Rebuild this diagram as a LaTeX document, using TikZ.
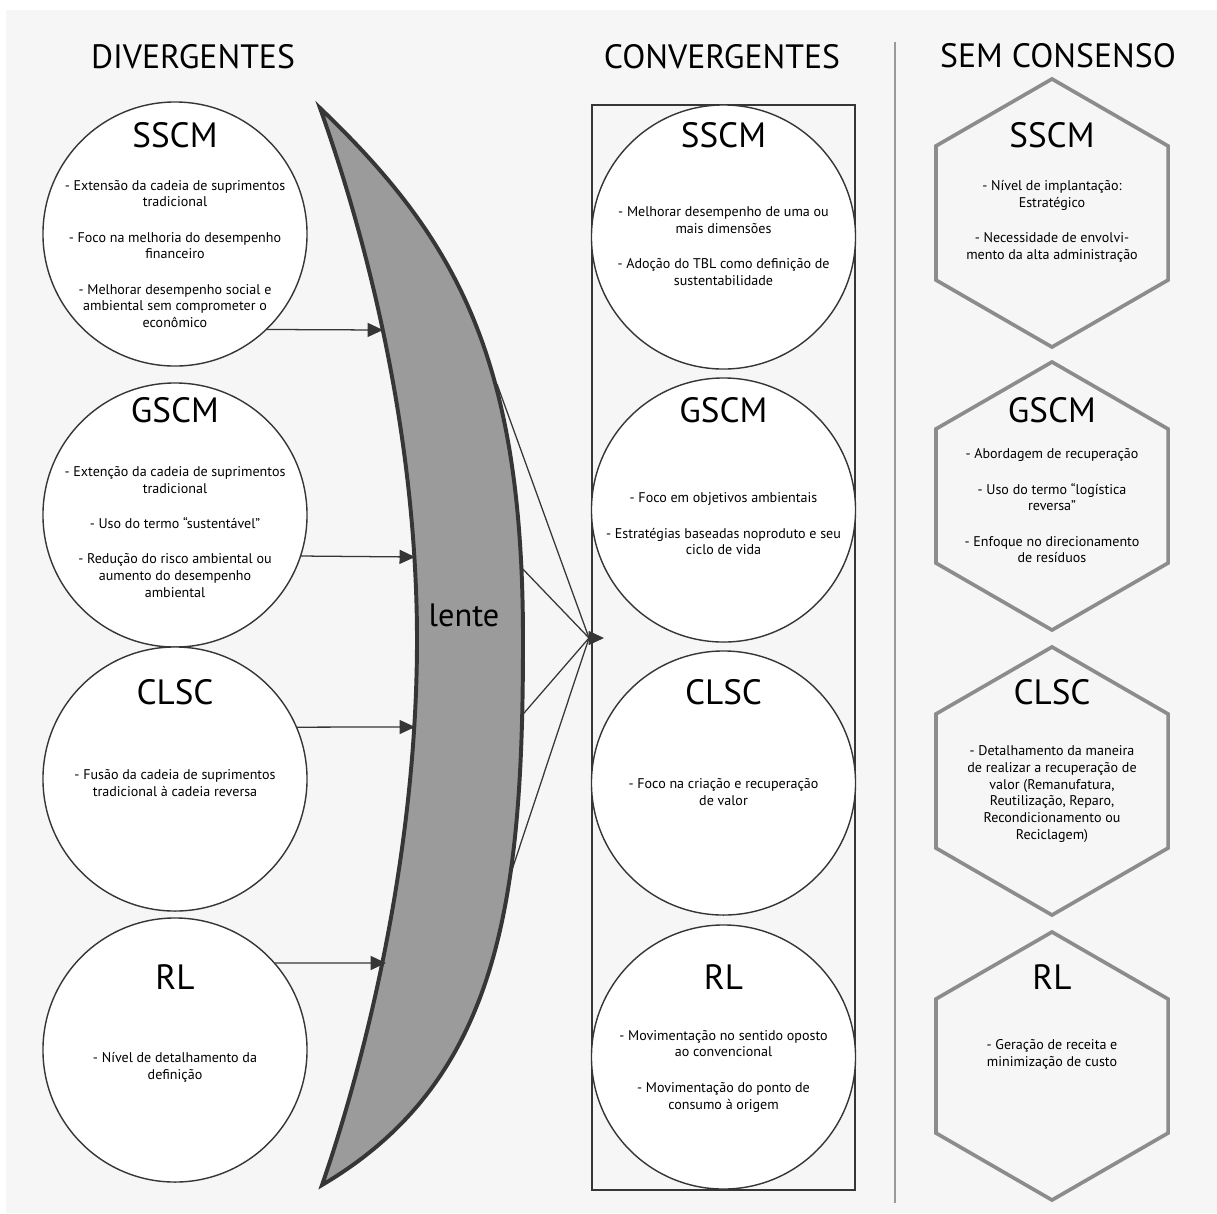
\documentclass[tikz,border=0pt]{standalone}
\usepackage{fontspec}
\setmainfont{PT Sans}
\usepackage{xcolor}
\usepackage{tikz}
\usetikzlibrary{shapes.geometric, arrows.meta, positioning}
\definecolor{fundo}{HTML}{F6F6F6}
\definecolor{borda}{HTML}{363636}
\definecolor{cinzalente}{HTML}{9B9B9B}
\definecolor{cinzahex}{HTML}{8C8C8C}
\definecolor{cinzasep}{HTML}{9A9A9A}
\tikzset{
    circulo/.style={circle, draw=borda, fill=white, line width=1pt, minimum size=6.6cm, inner sep=0pt},
    hexagono/.style={regular polygon, regular polygon sides=6, shape border rotate=30, draw=cinzahex, line width=2.6pt, minimum size=6.7cm, inner sep=0pt},
    sigla/.style={font=\fontsize{25}{30}\selectfont, text=black, inner sep=0pt},
    texto/.style={align=center, font=\fontsize{10}{12}\selectfont, text=black, inner sep=0pt},
    secao/.style={font=\fontsize{24}{28}\selectfont, text=black, inner sep=0pt},
    seta/.style={-{Triangle[length=11pt, width=10pt]}, draw=borda, line width=0.9pt}
}

\begin{document}
\begin{tikzpicture}[x=0.025cm, y=-0.025cm]
    % Fundo
    \useasboundingbox (0,0) rectangle (1217,1213);
    \fill[white] (0,0) rectangle (1217,1213);
    \fill[fundo] (6,10) rectangle (1217,1213);

    % Titulos das colunas
    \node[secao] (tDiv) at (193,57) {DIVERGENTES};
    \node[secao] (tConv) at (722,57) {CONVERGENTES};
    \node[secao] (tSem) at (1058,56) {SEM CONSENSO};
    \draw[cinzasep, line width=1.1pt] (895,42) -- (895,1203);

    % Linhas da lente ao ponto de convergencia
    \coordinate (conv) at (589,638);
    \coordinate (convPonta) at (604,638);
    \coordinate (lenR1) at (497,384);
    \coordinate (lenR2) at (518,564);
    \coordinate (lenR3) at (518,720);
    \coordinate (lenR4) at (492,930);
    \draw[borda, line width=0.9pt] (lenR1) -- (conv);
    \draw[borda, line width=0.9pt] (lenR2) -- (conv);
    \draw[borda, line width=0.9pt] (lenR3) -- (conv);
    \draw[borda, line width=0.9pt] (lenR4) -- (conv);

    % Lente
    \filldraw[fill=cinzalente, draw=borda, line width=2.8pt]
        (320,108) .. controls (458,240) and (523,360) .. (523,640)
        .. controls (523,900) and (500,1080) .. (322,1185)
        .. controls (362,1070) and (417,860) .. (417,640)
        .. controls (417,420) and (360,220) .. (320,108) -- cycle;
    \node[font=\fontsize{23}{28}\selectfont, inner sep=0pt] (lente) at (464,615) {lente};

    % Divergentes
    \node[circulo] (divSSCM) at (175,234) {};
    \node[circulo] (divGSCM) at (175,515) {};
    \node[circulo] (divCLSC) at (175,779) {};
    \node[circulo] (divRL) at (175,1050) {};
    \node[sigla] (divSSCMt) at (175,135) {SSCM};
    \node[sigla] (divGSCMt) at (175,410) {GSCM};
    \node[sigla] (divCLSCt) at (175,692) {CLSC};
    \node[sigla] (divRLt) at (175,977) {RL};
    \node[texto] (divSSCMb) at (175,254) {- Extensão da cadeia de suprimentos\\ tradicional\\[13pt] - Foco na melhoria do desempenho\\ financeiro\\[13pt] - Melhorar desempenho social e\\ ambiental sem comprometer o\\ econômico};
    \node[texto] (divGSCMb) at (175,532) {- Extenção da cadeia de suprimentos\\ tradicional\\[13pt] - Uso do termo “sustentável”\\[13pt] - Redução do risco ambiental ou\\ aumento do desempenho\\ ambiental};
    \node[texto] (divCLSCb) at (175,783) {- Fusão da cadeia de suprimentos\\ tradicional à cadeia reversa};
    \node[texto] (divRLb) at (175,1067) {- Nível de detalhamento da\\ definição};

    % Setas ate a lente
    \coordinate (lenA) at (383,330);
    \coordinate (lenB) at (415,557);
    \coordinate (lenC) at (415,727);
    \coordinate (lenD) at (386,963);
    \draw[seta] (divSSCM.-46.6) -- (lenA);
    \draw[seta] (divGSCM.-18.6) -- (lenB);
    \draw[seta] (divCLSC.23.2) -- (lenC);
    \draw[seta] (divRL.41.2) -- (lenD);

    % Convergentes
    \draw[borda, line width=1pt] (592,105) rectangle (855,1190);
    \node[circulo] (convSSCM) at (723.5,237) {};
    \node[circulo] (convGSCM) at (723.5,510) {};
    \node[circulo] (convCLSC) at (723.5,783) {};
    \node[circulo] (convRL) at (723.5,1057) {};
    \node[sigla] (convSSCMt) at (723.5,135) {SSCM};
    \node[sigla] (convGSCMt) at (723.5,410) {GSCM};
    \node[sigla] (convCLSCt) at (723.5,692) {CLSC};
    \node[sigla] (convRLt) at (723.5,977) {RL};
    \node[texto] (convSSCMb) at (723.5,246) {- Melhorar desempenho de uma ou\\ mais dimensões\\[13pt] - Adoção do TBL como definição de\\ sustentabilidade};
    \node[texto] (convGSCMb) at (723.5,524) {- Foco em objetivos ambientais\\[13pt] - Estratégias baseadas noproduto e seu\\ ciclo de vida};
    \node[texto] (convCLSCb) at (723.5,792) {- Foco na criação e recuperação\\ de valor};
    \node[texto] (convRLb) at (723.5,1071) {- Movimentação no sentido oposto\\ ao convencional\\[13pt] - Movimentação do ponto de\\ consumo à origem};
    \draw[seta] (conv) -- (convPonta);

    % Sem consenso
    \node[hexagono] (semSSCM) at (1052,213) {};
    \node[hexagono] (semGSCM) at (1052,496) {};
    \node[hexagono] (semCLSC) at (1052,781) {};
    \node[hexagono] (semRL) at (1052,1066) {};
    \node[sigla] (semSSCMt) at (1052,135) {SSCM};
    \node[sigla] (semGSCMt) at (1052,410) {GSCM};
    \node[sigla] (semCLSCt) at (1052,692) {CLSC};
    \node[sigla] (semRLt) at (1052,977) {RL};
    \node[texto] (semSSCMb) at (1052,221) {- Nível de implantação:\\ Estratégico\\[13pt] - Necessidade de envolvi-\\ mento da alta administração};
    \node[texto] (semGSCMb) at (1052,506) {- Abordagem de recuperação\\[13pt] - Uso do termo “logística\\ reversa”\\[13pt] - Enfoque no direcionamento\\ de resíduos};
    \node[texto] (semCLSCb) at (1052,794) {- Detalhamento da maneira\\ de realizar a recuperação de\\ valor (Remanufatura,\\ Reutilização, Reparo,\\ Recondicionamento ou\\ Reciclagem)};
    \node[texto] (semRLb) at (1052,1054) {- Geração de receita e\\ minimização de custo};
\end{tikzpicture}
\end{document}
